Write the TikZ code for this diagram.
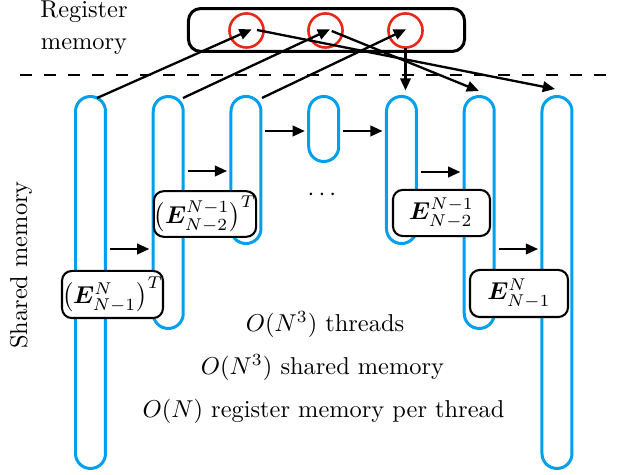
\documentclass[tikz,border=0pt]{standalone}
\usepackage{amsmath,bm}
\usetikzlibrary{arrows.meta,calc}
\definecolor{pillblue}{RGB}{0,160,236}
\definecolor{regred}{RGB}{232,40,22}
\begin{document}
\begin{tikzpicture}[x=0.41pt,y=-0.41pt,
  pill/.style={draw=pillblue,line width=1.23pt,rounded corners=6.1pt,minimum width=12.3pt,inner sep=0pt,outer sep=0pt},
  reg/.style={draw=regred,circle,line width=1.05pt,minimum size=14pt,inner sep=0pt,outer sep=0pt},
  regbox/.style={draw=black,line width=1.23pt,rounded corners=5pt,minimum width=113.2pt,minimum height=17.6pt,inner sep=0pt,outer sep=0pt},
  lab/.style={draw=black,fill=white,line width=0.85pt,rounded corners=4pt,inner sep=0pt},
  arr/.style={line width=0.95pt,-{Triangle[length=5pt,width=4.3pt]}},
  harr/.style={arr,shorten <=1.8pt,shorten >=1.6pt},
  txt/.style={anchor=base,inner sep=0pt},
  sep/.style={line width=0.8pt,dash pattern=on 4.9pt off 4.9pt},
]
\useasboundingbox (0,0) rectangle (624,475);

% separator
\coordinate (dl) at (20,75);
\coordinate (dr) at (612,75);
\draw[sep] (dl) -- (dr);

% register memory
\node[regbox] (rb) at (326.5,30) {};
\node[reg] (c1) at (246.5,30.5) {};
\node[reg] (c2) at (325.5,30.5) {};
\node[reg] (c3) at (405.5,30.5) {};

% pills
\node[pill,minimum height=152.5pt] (p1) at (90.5,282.5) {};
\node[pill,minimum height=95.1pt]  (p2) at (168.25,212.5) {};
\node[pill,minimum height=60.3pt]  (p3) at (246,170) {};
\node[pill,minimum height=26.65pt] (p4) at (323.75,129) {};
\node[pill,minimum height=60.3pt]  (p5) at (401.5,170) {};
\node[pill,minimum height=95.1pt]  (p6) at (479.25,212.5) {};
\node[pill,minimum height=152.5pt] (p7) at (557,282.5) {};

% labels
\node[lab,minimum width=39.8pt,minimum height=19.3pt] (la) at (112.5,294.5) {$\left(\bm{E}_{N-1}^{N}\right)^{T}$};
\node[lab,minimum width=38.5pt,minimum height=18.7pt] (lb) at (205,214) {$\left(\bm{E}_{N-2}^{N-1}\right)^{T}$};
\node[lab,minimum width=39.8pt,minimum height=18.9pt] (lc) at (441.5,213) {$\bm{E}_{N-2}^{N-1}$};
\node[lab,minimum width=40.2pt,minimum height=19.3pt] (ld) at (519,293.5) {$\bm{E}_{N-1}^{N}$};

% texts
\node[txt] (reg1) at (84,18) {Register};
\node[txt] (reg2) at (84,50) {memory};
\node[rotate=90,inner sep=0pt] (sm) at (21,265) {Shared memory};
\node[inner sep=0pt] (dots) at (324,195) {$\cdots$};
\node[txt] (t1) at (325,331.5) {$O(N^3)$ threads};
\node[txt] (t2) at (322.5,374.5) {$O(N^3)$ shared memory};
\node[txt] (t3) at (323.5,417.5) {$O(N)$ register memory per thread};

% horizontal arrows
\coordinate (h1) at (0,249);
\coordinate (h2) at (0,171);
\coordinate (h3) at (0,131);
\coordinate (h5) at (0,172);
\draw[harr] (p1.east |- h1) -- (p2.west |- h1);
\draw[harr] (p2.east |- h2) -- (p3.west |- h2);
\draw[harr] (p3.east |- h3) -- (p4.west |- h3);
\draw[harr] (p4.east |- h3) -- (p5.west |- h3);
\draw[harr] (p5.east |- h5) -- (p6.west |- h5);
\draw[harr] (p6.east |- h1) -- (p7.west |- h1);

% load into registers
\draw[arr] ($(p1.north)+(6.5,1.5)$) -- ($(c1)+(5.2,-1.2)$);
\draw[arr] ($(p2.north)+(14.75,1.5)$) -- ($(c2)+(4.5,-1.2)$);
\draw[arr] ($(p3.north)+(16,1.5)$) -- ($(c3)+(0.5,-1.2)$);

% store from registers
\coordinate (t5) at ($(p5.north)+(4,-6)$);
\draw[arr] ($(c1)+(10.5,-0.5)$) -- ($(p7.north)+(-2,-7.5)$);
\draw[arr] ($(c2)+(6.2,0.5)$) -- ($(p6.north)+(-0.25,-5.5)$);
\draw[arr] (c3.south) -- (c3.south |- t5);
\end{tikzpicture}
\end{document}
